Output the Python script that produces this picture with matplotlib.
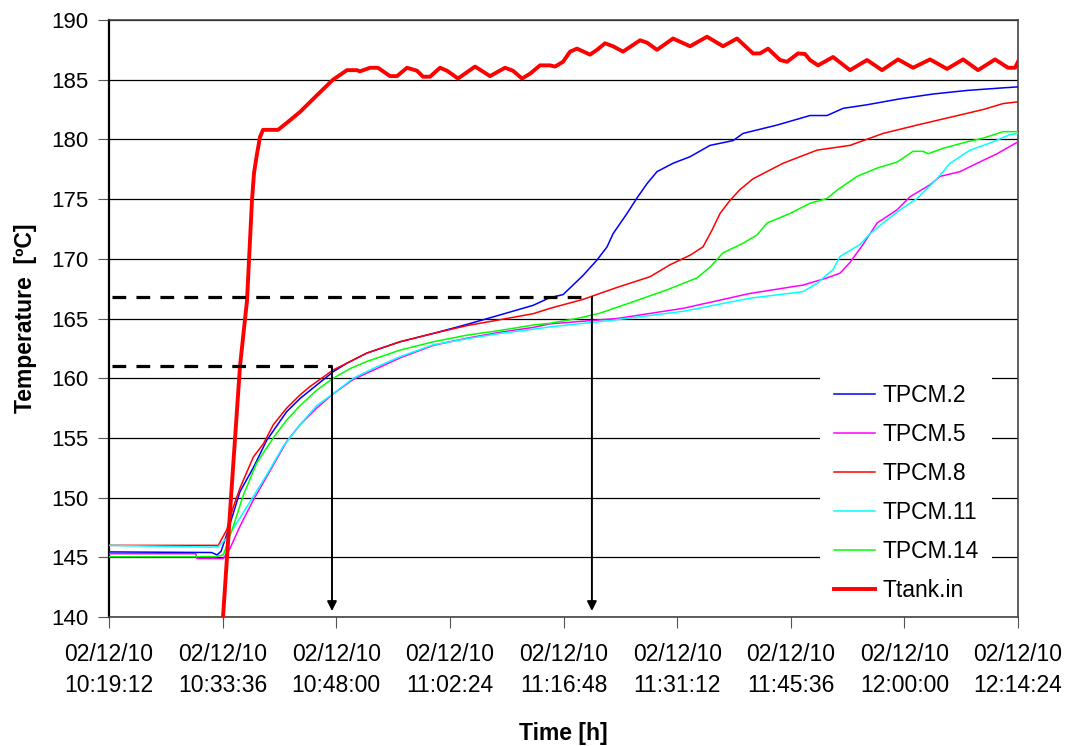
import numpy as np
from matplotlib import pyplot as plt

plt.rcParams['font.family'] = ['Liberation Sans', 'DejaVu Sans']

#####
# time in minutes after 02/12/10 10:19:12, temperatures in degC

t_tank = [14.2, 14.45, 15.46, 16.60, 17.49, 18.12, 18.38, 18.76, 19.14, 19.52, 21.42, 22.56, 24.21,
          26.36, 28.39, 30.16, 31.43, 31.81, 33.08, 34.09, 35.61, 36.50, 37.77, 39.04, 39.80, 40.68,
          41.95, 42.84, 44.23, 46.39, 48.29, 50.19, 51.20, 52.34, 53.36, 54.62, 55.89, 56.53, 57.54,
          58.43, 59.31, 60.96, 61.85, 62.86, 63.88, 65.14, 67.30, 68.19, 69.45, 71.48, 73.64, 75.79,
          77.82, 79.59, 81.62, 82.51, 83.52, 85.04, 85.93, 87.32, 88.21, 88.84, 89.86, 91.76, 93.91,
          96.07, 97.97, 100.0, 101.90, 104.05, 106.21, 108.24, 110.14, 112.29, 113.94, 114.83, 115.2]
T_tank = [138.0, 140.0, 150.0, 161.0, 166.5, 174.9, 177.2, 178.8, 180.2, 180.8, 180.8, 181.4, 182.3,
          183.7, 185.0, 185.8, 185.8, 185.7, 186.0, 186.0, 185.3, 185.3, 186.0, 185.75, 185.25, 185.25,
          186.0, 185.75, 185.1, 186.1, 185.3, 186.0, 185.75, 185.1, 185.5, 186.2, 186.2, 186.1, 186.5,
          187.35, 187.6, 187.1, 187.5, 188.05, 187.8, 187.35, 188.3, 188.1, 187.5, 188.45, 187.8, 188.6,
          187.8, 188.45, 187.2, 187.2, 187.6, 186.65, 186.5, 187.2, 187.15, 186.65, 186.2, 186.9, 185.8,
          186.65, 185.8, 186.7, 186.0, 186.7, 185.9, 186.7, 185.8, 186.7, 186.0, 186.0, 186.5]

t_pcm2 = [0, 13.0, 13.69, 14.2, 14.92, 16.60, 18.29, 19.99, 22.52, 24.21, 28.43, 30.13, 32.66, 36.88,
          41.10, 45.33, 49.56, 53.74, 55.89, 57.54, 60.07, 61.85, 63.12, 63.88, 65.65, 66.92, 68.19,
          69.45, 71.48, 73.64, 76.17, 79.09, 80.35, 84.66, 88.84, 91.00, 93.03, 96.07, 100.25, 104.43,
          108.74, 112.93, 115.2]
T_pcm2 = [145.45, 145.4, 145.2, 145.5, 146.9, 150.5, 152.5, 154.8, 157.2, 158.3, 160.55, 161.25, 162.1,
          163.05, 163.75, 164.5, 165.3, 166.1, 166.75, 167.0, 168.6, 169.9, 171.0, 172.1, 173.8, 175.1,
          176.3, 177.3, 178.0, 178.55, 179.5, 179.9, 180.5, 181.2, 182.0, 182.0, 182.6, 182.9, 183.4,
          183.8, 184.1, 184.3, 184.4]

t_pcm5 = [0, 11.0, 11.15, 14.2, 14.49, 15.34, 16.60, 18.29, 19.99, 22.52, 24.21, 26.32, 28.43, 30.96,
          36.88, 41.10, 45.33, 49.56, 53.74, 55.89, 64.38, 72.75, 81.24, 87.96, 91.00, 92.65, 93.91,
          95.56, 97.34, 99.87, 101.52, 104.05, 105.32, 107.86, 110.01, 112.55, 115.2]
T_pcm5 = [145.3, 145.3, 144.9, 144.9, 144.9, 145.75, 147.6, 149.8, 151.75, 154.7, 156.1, 157.5, 158.7,
          159.9, 161.7, 162.75, 163.35, 163.85, 164.25, 164.55, 165.0, 165.85, 167.1, 167.8, 168.4,
          168.8, 169.7, 171.2, 173.0, 174.1, 175.2, 176.2, 176.9, 177.3, 178.0, 178.8, 179.8]

t_pcm8 = [0, 13.0, 13.85, 14.92, 15.75, 16.60, 18.29, 19.56, 20.82, 22.52, 24.21, 25.47, 26.74, 28.43,
          30.13, 32.66, 36.88, 41.10, 45.33, 49.56, 53.74, 55.89, 60.07, 64.38, 68.57, 71.10, 73.64,
          75.28, 76.42, 77.44, 78.71, 79.97, 81.62, 85.42, 89.73, 93.91, 98.10, 102.41, 106.59, 110.77,
          113.31, 115.2]
T_pcm8 = [146.0, 146.0, 146.0, 147.3, 149.2, 150.8, 153.4, 154.5, 156.1, 157.5, 158.6, 159.3, 159.9,
          160.7, 161.25, 162.1, 163.05, 163.75, 164.4, 164.9, 165.4, 165.85, 166.6, 167.6, 168.5, 169.5,
          170.3, 171.0, 172.4, 173.8, 174.9, 175.8, 176.7, 178.0, 179.1, 179.5, 180.5, 181.2, 181.85,
          182.5, 183.0, 183.15]

t_pcm11 = [0, 13.0, 13.85, 14.92, 16.60, 18.29, 19.99, 22.09, 24.21, 26.32, 28.43, 30.96, 33.93, 36.88,
           41.10, 45.33, 49.56, 53.74, 55.89, 63.12, 72.75, 81.24, 87.96, 89.73, 91.76, 92.65, 93.91,
           95.18, 96.45, 98.10, 100.25, 102.41, 104.94, 106.59, 109.12, 111.66, 114.19, 115.2]
T_pcm11 = [146.0, 145.85, 145.9, 146.6, 148.3, 150.1, 151.9, 154.3, 156.1, 157.7, 158.7, 160.0, 160.95,
           161.8, 162.8, 163.3, 163.75, 164.1, 164.3, 164.8, 165.6, 166.7, 167.25, 167.95, 169.1, 170.2,
           170.7, 171.2, 172.1, 173.0, 174.1, 175.05, 176.7, 178.0, 179.1, 179.7, 180.4, 180.5]

t_pcm14 = [0, 13.5, 14.49, 15.75, 17.02, 18.72, 20.82, 22.52, 24.21, 26.32, 28.43, 30.54, 32.66, 36.88,
           41.10, 45.33, 49.56, 53.74, 55.89, 59.31, 62.23, 66.41, 70.72, 74.52, 76.17, 77.82, 80.35,
           82.13, 83.40, 86.31, 88.84, 91.00, 92.27, 94.80, 97.34, 99.87, 101.90, 103.17, 103.80,
           105.70, 108.74, 110.77, 113.31, 115.2]
T_pcm14 = [145.05, 145.05, 145.2, 147.6, 150.2, 152.9, 155.0, 156.5, 157.7, 159.0, 160.0, 160.8, 161.4,
           162.35, 163.05, 163.6, 164.0, 164.45, 164.6, 165.0, 165.45, 166.4, 167.4, 168.4, 169.3, 170.5,
           171.3, 172.0, 173.0, 173.8, 174.65, 175.05, 175.75, 176.9, 177.6, 178.1, 179.0, 179.0, 178.8,
           179.25, 179.8, 180.1, 180.65, 180.65]

# melting markers: (time of arrow, temperature level)
t_marks = [28.26, 61.2]
T_marks = [161.0, 166.8]

xtick_pos = [0, 14.4, 28.8, 43.2, 57.6, 72.0, 86.4, 100.8, 115.2]
xtick_lab = ['02/12/10\n10:19:12', '02/12/10\n10:33:36', '02/12/10\n10:48:00', '02/12/10\n11:02:24',
             '02/12/10\n11:16:48', '02/12/10\n11:31:12', '02/12/10\n11:45:36', '02/12/10\n12:00:00',
             '02/12/10\n12:14:24']

#####

fig = plt.figure(figsize=(10.71, 7.46), dpi=100)
ax = fig.add_axes([109/1071, 1-617/746, 909/1071, 597/746])

lw = 1.1
ax.plot(t_pcm2, T_pcm2, color='#0000FF', lw=lw, label='TPCM.2', zorder=3)
ax.plot(t_pcm5, T_pcm5, color='#FF00FF', lw=lw, label='TPCM.5', zorder=3)
ax.plot(t_pcm8, T_pcm8, color='#FF0000', lw=lw, label='TPCM.8', zorder=3)
ax.plot(t_pcm11, T_pcm11, color='#00FFFF', lw=lw, label='TPCM.11', zorder=3)
ax.plot(t_pcm14, T_pcm14, color='#00FF00', lw=lw, label='TPCM.14', zorder=3)
ax.plot(t_tank, T_tank, color='#FF0000', lw=2.8, label='Ttank.in', zorder=4)

for tm, Tm in zip(t_marks, T_marks):
    ax.plot([0.4, tm], [Tm, Tm], color='black', lw=2.3, dashes=(4.3, 3.2), zorder=5)
    ax.annotate('', xy=(tm, 140.5), xytext=(tm, Tm),
                arrowprops=dict(arrowstyle='-|>', color='black', lw=1.4,
                                mutation_scale=14, shrinkA=0, shrinkB=0), zorder=5)

ax.set_xlim(0, 115.2)
ax.set_ylim(140, 190)
ax.set_yticks(np.arange(140, 191, 5))
ax.set_xticks(xtick_pos)
ax.set_xticklabels(xtick_lab, fontsize=16.5, linespacing=1.4)
ax.tick_params(axis='y', labelsize=16, length=8, width=0.8, color='#555555', pad=7)
ax.tick_params(axis='x', length=8, width=0.8, color='#555555', pad=11)

ax.yaxis.grid(True, color='black', lw=0.9)
ax.set_axisbelow(True)
for s in ['top', 'right', 'bottom']:
    ax.spines[s].set_color('#444444')
    ax.spines[s].set_linewidth(1.2)
ax.spines['left'].set_color('black')
ax.spines['left'].set_linewidth(1.6)

ax.set_ylabel('Temperature  [ºC]', fontsize=16.5, fontweight='bold', labelpad=10)
ax.set_xlabel('Time [h]', fontsize=16.5, fontweight='bold', labelpad=18)

leg = ax.legend(loc='lower right', bbox_to_anchor=(0.973, 0.0), fontsize=16.5, frameon=True,
                fancybox=False, edgecolor='none', facecolor='white', framealpha=1,
                handlelength=1.8, handletextpad=0.3, labelspacing=0.70, borderpad=0.6,
                borderaxespad=0.05)
leg.set_zorder(6)

fig.savefig('out.png', dpi=100)
print('out.png')
